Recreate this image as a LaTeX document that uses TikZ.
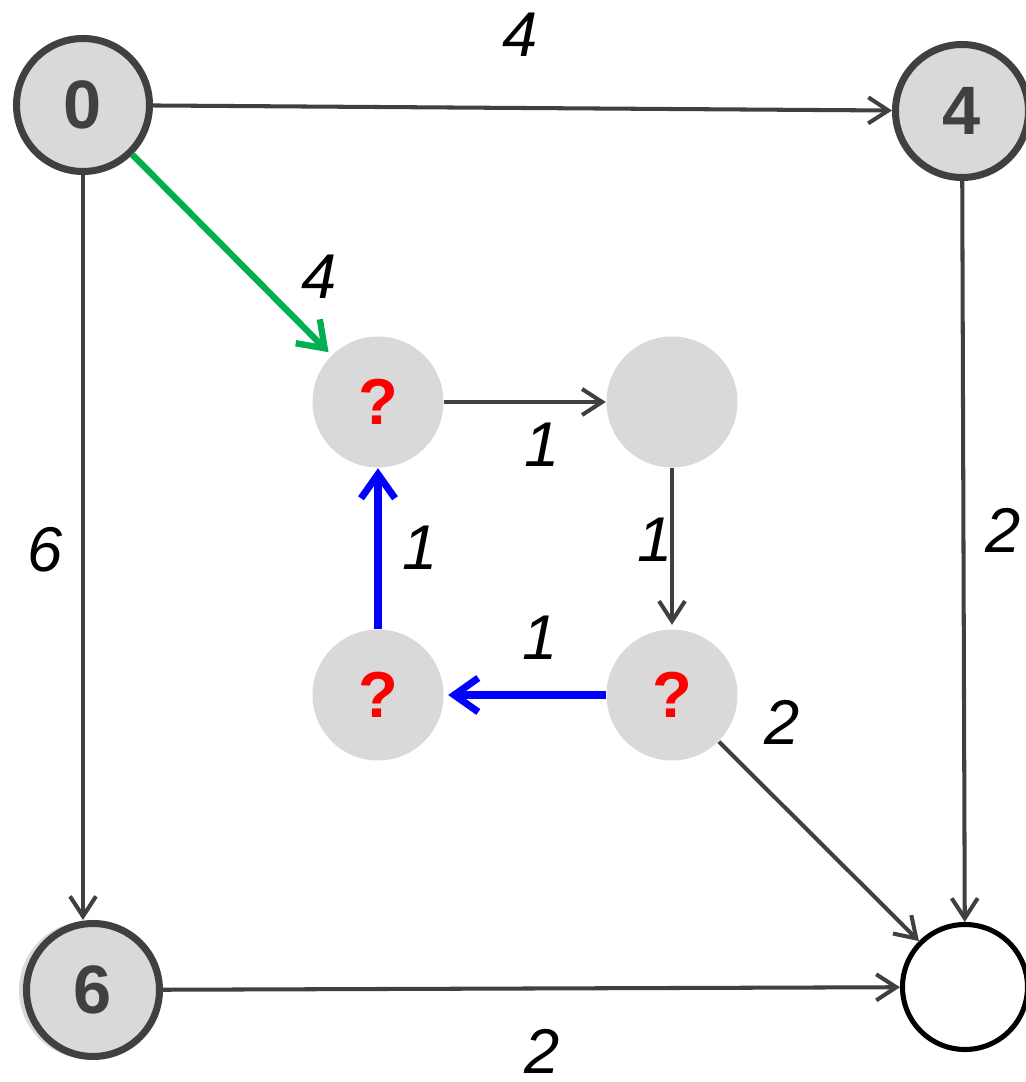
\documentclass[tikz,border=0pt]{standalone}
\usepackage{fontspec}
\setmainfont{Liberation Sans}
\usepackage{tikz}
\usetikzlibrary{positioning,arrows.meta}
\definecolor{cdark}{HTML}{404040}
\definecolor{cfill}{HTML}{D9D9D9}
\definecolor{cgreen}{HTML}{00B050}
\definecolor{cblue}{HTML}{0000FF}
\definecolor{cred}{HTML}{FF0000}
\tikzset{
  vtx/.style={circle,draw=cdark,line width=2pt,fill=cfill,minimum size=1.33cm,inner sep=0pt,
    text=cdark,font=\fontsize{19.5}{21}\selectfont\bfseries},
  qvtx/.style={circle,fill=cfill,minimum size=1.31cm,inner sep=0pt,
    text=cred,font=\fontsize{18.5}{20}\selectfont\bfseries},
  edge/.style={-{Straight Barb[length=2mm,width=2.6mm]},line width=1.15pt,cdark},
  hot/.style={-{Straight Barb[length=2.4mm,width=3.4mm]},line width=#1},
  wlabel/.style={font=\fontsize{18}{20}\selectfont\itshape}
}

\begin{document}
\begin{tikzpicture}
    \useasboundingbox (0,0) rectangle (10.26,10.82);

    % outer nodes
    \fill[cfill] (0.88,0.92) circle (0.69);
    \node[vtx] (n0) at (0.83,9.77) {0};
    \node[vtx] (n4) at (9.62,9.71) {4};
    \node[vtx] (n6) at (0.93,0.92) {6};
    \node[circle,draw=black,line width=1.45pt,fill=white,minimum size=1.25cm,inner sep=0pt] (nE) at (9.65,0.95) {};

    % inner nodes
    \node[qvtx] (qa) at (3.78,6.80) {?};
    \node[qvtx] (qb) at (6.72,6.80) {};
    \node[qvtx] (qc) at (3.78,3.87) {?};
    \node[qvtx] (qd) at (6.72,3.87) {?};

    \draw[edge] (n0) -- (n4);
    \draw[edge] (n0.south) -- (n0.south |- n6.north);
    \draw[edge] (n4) -- (nE);
    \draw[edge] (n6) -- (nE);
    \draw[edge] (qa) -- (qb);
    \draw[edge,shorten >=0.04cm] (qb) -- (qd);
    \draw[edge] (qd) -- (nE);

    \draw[hot=1.8pt,cgreen,shorten >=0.04cm] (n0) -- (qa);
    \draw[hot=2pt,cblue,shorten >=0.04cm] (qd) -- (qc);
    \draw[hot=2pt,cblue] (qc) -- (qa);

    % weights
    \node[wlabel] (w04) at (5.20,10.47) {4};
    \node[wlabel] (w0a) at (3.19,8.05) {4};
    \node[wlabel] (w06) at (0.45,5.32) {6};
    \node[wlabel] (w4E) at (10.03,5.52) {2};
    \node[wlabel] (w6E) at (5.42,0.31) {2};
    \node[wlabel] (wab) at (5.42,6.37) {1};
    \node[wlabel] (wbd) at (6.55,5.42) {1};
    \node[wlabel] (wdc) at (5.40,4.44) {1};
    \node[wlabel] (wca) at (4.20,5.34) {1};
    \node[wlabel] (wdE) at (7.82,3.60) {2};
  \end{tikzpicture}
\end{document}
